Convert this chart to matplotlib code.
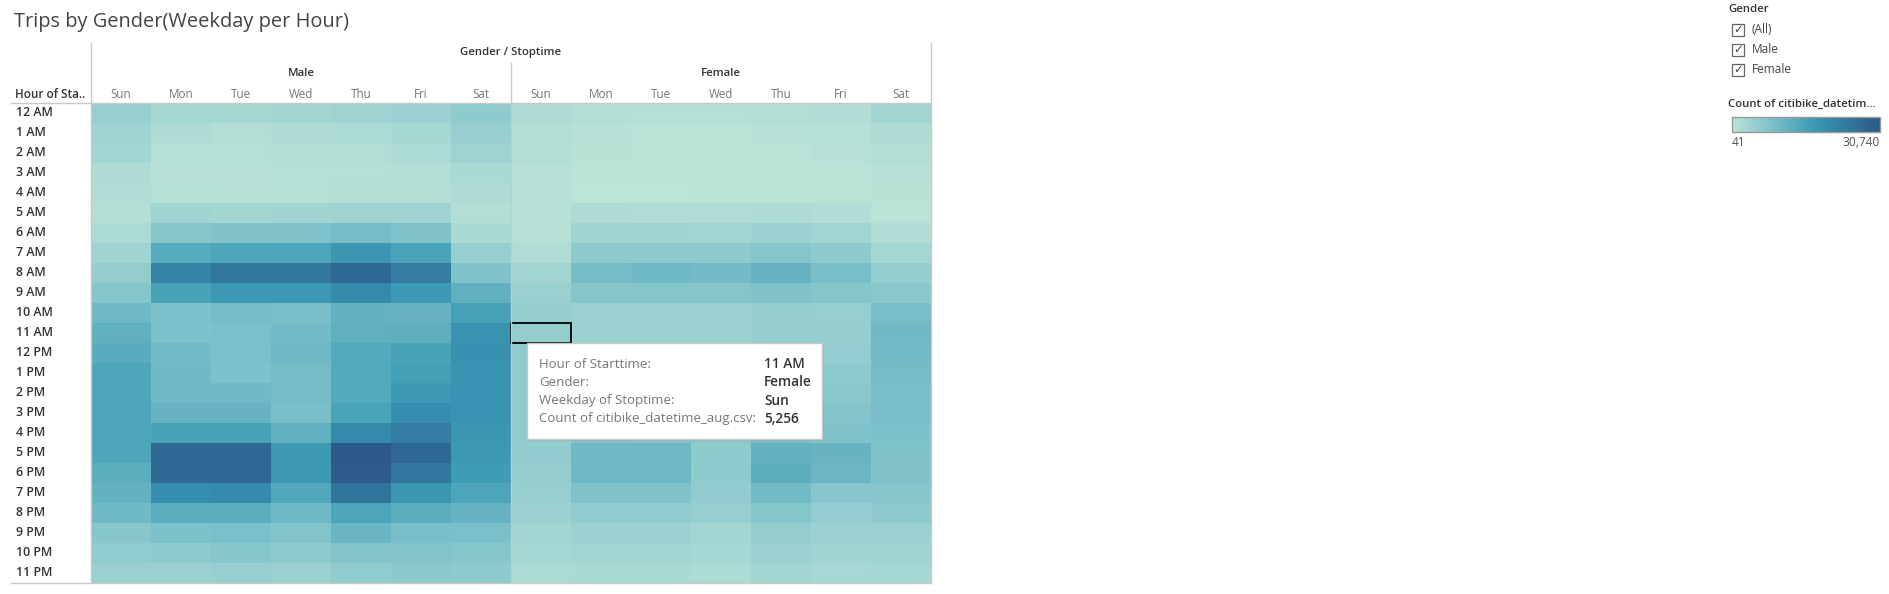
"""Trips by gender heatmap (weekday of stoptime per hour of starttime)."""

import matplotlib

matplotlib.use("Agg")
import matplotlib.pyplot as plt
import numpy as np
from matplotlib.colors import LinearSegmentedColormap
from matplotlib.patches import Rectangle

# --- data ------------------------------------------------------------------
hours = ["12 AM", "1 AM", "2 AM", "3 AM", "4 AM", "5 AM", "6 AM", "7 AM",
         "8 AM", "9 AM", "10 AM", "11 AM", "12 PM", "1 PM", "2 PM", "3 PM",
         "4 PM", "5 PM", "6 PM", "7 PM", "8 PM", "9 PM", "10 PM", "11 PM"]
weekdays = ["Sun", "Mon", "Tue", "Wed", "Thu", "Fri", "Sat"]
genders = ["Male", "Female"]

# rows = hour of starttime, columns = Sun..Sat
male_counts = [
    [4700, 2800, 2800, 3100, 3700, 4000, 5900],
    [3400, 1600, 1300, 1600, 1900, 2800, 4600],
    [3100, 1000, 950, 1300, 1300, 1900, 3700],
    [1700, 700, 650, 900, 900, 1300, 2200],
    [1400, 1000, 800, 1000, 1100, 1300, 1600],
    [1100, 3400, 3100, 3400, 3700, 3400, 1300],
    [1900, 7100, 7700, 7700, 9300, 8000, 2200],
    [3400, 13200, 14200, 14500, 17800, 14800, 4600],
    [5300, 21500, 24000, 24000, 27100, 22800, 8000],
    [7100, 15100, 17200, 17200, 20300, 17000, 12000],
    [10200, 8300, 9300, 8900, 11700, 11400, 15400],
    [12000, 8300, 8600, 9600, 12000, 12300, 18500],
    [13000, 9600, 8600, 10200, 13500, 15100, 18800],
    [14200, 9900, 8300, 9300, 13500, 15700, 18200],
    [14200, 9900, 9900, 9300, 13500, 17000, 18200],
    [14500, 11100, 11100, 8900, 14800, 19400, 18200],
    [14500, 15100, 15100, 12000, 20300, 22800, 17800],
    [14200, 27100, 27100, 17000, 30740, 27100, 17500],
    [12600, 26800, 27100, 17000, 30100, 24000, 16600],
    [11700, 19400, 20000, 13900, 24600, 17800, 14500],
    [9900, 12600, 12600, 10200, 14500, 12600, 11100],
    [6800, 8300, 8600, 7400, 10800, 8900, 8600],
    [5600, 5900, 6800, 5900, 7400, 7400, 7100],
    [4300, 4300, 4600, 4300, 5600, 6200, 5900],
]
female_counts = [
    [1600, 1300, 1000, 1000, 1300, 1400, 3100],
    [1300, 650, 400, 400, 650, 1000, 1600],
    [1300, 500, 300, 300, 400, 700, 1300],
    [650, 350, 200, 200, 200, 300, 700],
    [650, 41, 150, 200, 200, 300, 500],
    [600, 1600, 1500, 1500, 1600, 1400, 400],
    [700, 3400, 3400, 3200, 4000, 3300, 1400],
    [1500, 5900, 5900, 5900, 7100, 5900, 3000],
    [3200, 9300, 9900, 9500, 11400, 9000, 5000],
    [4400, 7000, 7100, 7100, 8000, 7100, 6500],
    [4900, 4000, 4000, 4000, 5000, 4800, 9000],
    [5256, 4000, 4000, 4000, 5000, 5000, 10000],
    [5700, 4300, 4200, 4400, 5400, 5100, 9800],
    [5800, 4400, 4300, 4500, 5600, 6000, 9200],
    [5800, 4700, 4600, 4700, 5900, 6500, 8900],
    [5700, 5600, 5500, 5300, 6900, 7300, 8900],
    [5800, 7600, 7500, 6300, 9000, 8000, 8300],
    [5400, 10000, 10000, 5900, 11600, 11300, 8000],
    [5000, 10200, 10200, 5900, 12600, 10500, 7600],
    [4600, 8000, 8000, 5400, 9800, 6900, 6800],
    [3900, 5600, 5600, 4600, 7000, 5100, 5700],
    [3200, 4000, 4000, 3100, 5200, 4000, 4300],
    [2700, 3300, 3300, 2900, 4000, 3400, 3700],
    [2000, 2300, 2300, 1800, 3100, 2600, 2900],
]

# tooltip shown in the screenshot
tip_hour, tip_gender, tip_day = "11 AM", "Female", "Sun"

# Tableau "Blue-Teal" sequential palette
blue_teal = ["#bce4d8", "#aedcd5", "#a1d5d2", "#95cecf", "#89c8cc", "#7ec1ca",
             "#72bac6", "#66b2c2", "#59acbe", "#4ba5ba", "#419eb6", "#3b96b2",
             "#358ead", "#3586a7", "#347ea1", "#32779b", "#316f96", "#2f6790",
             "#2d608a", "#2c5985"]
cmap = LinearSegmentedColormap.from_list("blue_teal", blue_teal)

W, H = 1890, 594
FONT = "Open Sans"
DARK = "#333333"
MID = "#777777"
GRID = "#c8c8c8"

counts = np.hstack([np.array(male_counts), np.array(female_counts)])
vmin, vmax = counts.min(), counts.max()
n_rows, n_cols = counts.shape

fig = plt.figure(figsize=(W / 100, H / 100), dpi=100)
fig.patch.set_facecolor("white")


def frac_box(x0, y0, x1, y1):
    """Pixel box (top-left origin) -> figure fraction [l, b, w, h]."""
    return [x0 / W, 1 - y1 / H, (x1 - x0) / W, (y1 - y0) / H]


# heatmap
hx0, hx1, hy0, hy1 = 91, 931, 103, 583
ax = fig.add_axes(frac_box(hx0, hy0, hx1, hy1))
mesh = ax.pcolormesh(np.arange(n_cols + 1), np.arange(n_rows + 1), counts,
                     cmap=cmap, vmin=vmin, vmax=vmax, antialiased=False,
                     edgecolors="none")
ax.set_xlim(0, n_cols)
ax.set_ylim(n_rows, 0)
ax.axis("off")

# highlighted cell behind the tooltip
r = hours.index(tip_hour)
c = genders.index(tip_gender) * len(weekdays) + weekdays.index(tip_day)
ax.add_patch(Rectangle((c, r), 1, 1, fill=False, edgecolor="black", lw=1.3,
                       clip_on=False, zorder=5))

# overlay in pixel coordinates for headers, lines, tooltip, legend
ov = fig.add_axes([0, 0, 1, 1], zorder=10)
ov.set_xlim(0, W)
ov.set_ylim(H, 0)
ov.axis("off")

ov.text(14, 22, "Trips by Gender(Weekday per Hour)", fontsize=14.4,
        family=FONT, color="#444444", va="center", ha="left")

col_w = (hx1 - hx0) / n_cols
row_h = (hy1 - hy0) / n_rows
ov.text((hx0 + hx1) / 2, 53, "Gender / Stoptime", fontsize=8.2, family=FONT,
        fontweight="semibold", color=DARK, ha="center", va="center")
for g, gender in enumerate(genders):
    gx = hx0 + col_w * len(weekdays) * (g + 0.5)
    ov.text(gx, 74, gender, fontsize=8.2, family=FONT, fontweight="semibold",
            color=DARK, ha="center", va="center")
    for d, day in enumerate(weekdays):
        dx = hx0 + col_w * (g * len(weekdays) + d + 0.5)
        ov.text(dx, 94, day, fontsize=8.4, family=FONT, color=MID,
                ha="center", va="center")
ov.text(15, 94, "Hour of Sta..", fontsize=8.4, family=FONT,
        fontweight="semibold", color=DARK, ha="left", va="center")
for i, hour in enumerate(hours):
    ov.text(16, hy0 + row_h * (i + 0.5), hour, fontsize=8.9, family=FONT,
            fontweight="semibold", color=DARK, ha="left", va="center")

# frame lines
mid_x = hx0 + col_w * len(weekdays)
ov.plot([hx0, hx0], [43, hy1], color=GRID, lw=1)
ov.plot([hx1, hx1], [43, hy1], color=GRID, lw=1)
ov.plot([mid_x, mid_x], [63, hy1], color=GRID, lw=1)
ov.plot([11, hx1], [hy0, hy0], color=GRID, lw=1)
ov.plot([11, hx1], [hy1, hy1], color=GRID, lw=1)

# tooltip
tip_val = counts[r, c]
tx0, ty0, tx1, ty1 = 527, 343, 822, 439
ov.add_patch(Rectangle((tx0 + 2, ty0 + 2), tx1 - tx0, ty1 - ty0,
                       facecolor="#9a9a9a", alpha=0.35, edgecolor="none"))
ov.add_patch(Rectangle((tx0, ty0), tx1 - tx0, ty1 - ty0, facecolor="white",
                       edgecolor="#c8c8c8", lw=1))
tip_rows = [("Hour of Starttime:", tip_hour), ("Gender:", tip_gender),
            ("Weekday of Stoptime:", tip_day),
            ("Count of citibike_datetime_aug.csv:", f"{tip_val:,}")]
for k, (label, value) in enumerate(tip_rows):
    yy = 364 + k * 18.3
    ov.text(539, yy, label, fontsize=9.5, family=FONT, color="#777777",
            ha="left", va="center")
    ov.text(764, yy, value, fontsize=9.8, family=FONT, fontweight="semibold",
            color=DARK, ha="left", va="center")

# gender filter legend
ov.text(1728, 10, "Gender", fontsize=8.2, family=FONT, fontweight="semibold",
        color=DARK, ha="left", va="center")
for k, item in enumerate(["(All)"] + genders):
    cy = 29.5 + k * 20
    ov.add_patch(Rectangle((1732, cy - 6), 12, 12, facecolor="white",
                           edgecolor="#666666", lw=0.9))
    ov.text(1738, cy + 0.5, "\u2713", fontsize=8.5, family="DejaVu Sans",
            color="#444444", ha="center", va="center")
    ov.text(1752, cy, item, fontsize=8.6, family=FONT, color="#444444",
            ha="left", va="center")

ov.text(1728, 104, "Count of citibike_datetim...", fontsize=8.2, family=FONT,
        fontweight="semibold", color=DARK, ha="left", va="center")
cax = fig.add_axes(frac_box(1732, 117, 1880, 132), zorder=11)
cb = fig.colorbar(mesh, cax=cax, orientation="horizontal")
cb.set_ticks([])
cb.outline.set_edgecolor("#999999")
cb.outline.set_linewidth(1)
ov.text(1732, 143, f"{vmin:,}", fontsize=8.6, family=FONT, color="#555555",
        ha="left", va="center")
ov.text(1880, 143, f"{vmax:,}", fontsize=8.6, family=FONT, color="#555555",
        ha="right", va="center")

fig.savefig("out.png", dpi=100)
